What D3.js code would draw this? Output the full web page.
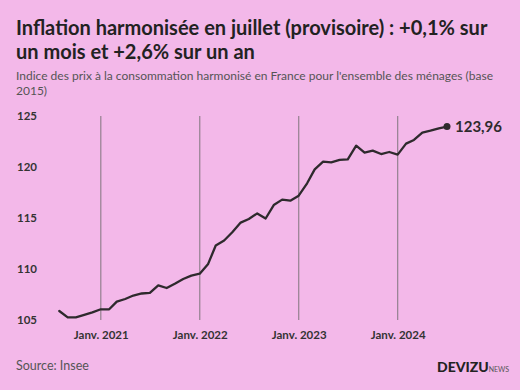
<!DOCTYPE html>
<html>
<head>
<meta charset="utf-8">
<script src="https://cdn.jsdelivr.net/npm/d3@7"></script>
<style>
  html, body { margin: 0; padding: 0; background: #f3b8e9; }
  svg { display: block; }
</style>
</head>
<body>
<svg id="chart" width="520" height="390"></svg>
<script>
const months = ["2020-08","2020-09","2020-10","2020-11","2020-12",
  "2021-01","2021-02","2021-03","2021-04","2021-05","2021-06","2021-07","2021-08","2021-09","2021-10","2021-11","2021-12",
  "2022-01","2022-02","2022-03","2022-04","2022-05","2022-06","2022-07","2022-08","2022-09","2022-10","2022-11","2022-12",
  "2023-01","2023-02","2023-03","2023-04","2023-05","2023-06","2023-07","2023-08","2023-09","2023-10","2023-11","2023-12",
  "2024-01","2024-02","2024-03","2024-04","2024-05","2024-06","2024-07"];
const values = [105.88,105.26,105.26,105.5,105.75,
  106.05,106.05,106.8,107.06,107.4,107.6,107.65,108.4,108.14,108.56,109.02,109.35,
  109.54,110.5,112.3,112.8,113.6,114.55,114.9,115.45,114.95,116.27,116.8,116.7,
  117.19,118.4,119.77,120.52,120.46,120.69,120.75,122.09,121.4,121.6,121.27,121.47,
  121.21,122.29,122.65,123.37,123.56,123.79,123.96];
const yTicks = [105, 110, 115, 120, 125];
const xTicks = ["2021-01","2022-01","2023-01","2024-01"];
const xTickLabels = ["Janv. 2021","Janv. 2022","Janv. 2023","Janv. 2024"];
const endLabel = "123,96";
const titleLines = ["Inflation harmonisée en juillet (provisoire) : +0,1% sur", "un mois et +2,6% sur un an"];
const subtitleLines = ["Indice des prix à la consommation harmonisé en France pour l'ensemble des ménages (base", "2015)"];
const sourceText = "Source: Insee";

const parse = d3.timeParse("%Y-%m");
const data = months.map((m, i) => ({ date: parse(m), value: values[i] }));

const svg = d3.select("#chart");
const font = "Lato, 'Noto Sans', sans-serif";

svg.append("rect").attr("width", 520).attr("height", 390).attr("fill", "#f3b8e9");

const x = d3.scaleTime().domain([data[0].date, data[data.length - 1].date]).range([59.3, 447]);
const y = d3.scaleLinear().domain([105, 125]).range([320, 116]);

// title
const title = svg.append("text").attr("font-family", font).attr("font-weight", 700)
  .attr("font-size", 20).attr("fill", "#222");
titleLines.forEach((t, i) => title.append("tspan").attr("x", 16).attr("y", 35 + i * 24).text(t));

const sub = svg.append("text").attr("font-family", font).attr("font-size", 12).attr("fill", "#555");
subtitleLines.forEach((t, i) => sub.append("tspan").attr("x", 16).attr("y", 80 + i * 14.5).text(t));

// vertical gridlines
const xTickDates = xTicks.map(parse);
svg.append("g").selectAll("line").data(xTickDates).join("line")
  .attr("x1", d => x(d)).attr("x2", d => x(d))
  .attr("y1", y(125)).attr("y2", y(105))
  .attr("stroke", "#9a8596").attr("stroke-width", 1.3);

// x axis labels
const xAxis = d3.axisBottom(x).tickValues(xTickDates)
  .tickFormat((d, i) => xTickLabels[i]).tickSize(0).tickPadding(0);
const gx = svg.append("g").attr("transform", "translate(0,331)").call(xAxis);
gx.select(".domain").remove();
gx.selectAll("text").attr("font-family", font).attr("font-weight", 700)
  .attr("font-size", 11.5).attr("fill", "#333");

// y axis labels
const yAxis = d3.axisLeft(y).tickValues(yTicks).tickSize(0).tickPadding(0);
const gy = svg.append("g").attr("transform", "translate(17,0)").call(yAxis);
gy.select(".domain").remove();
gy.selectAll("text").attr("text-anchor", "start").attr("font-family", font).attr("font-weight", 700)
  .attr("font-size", 11.5).attr("fill", "#333");

// line
const line = d3.line().x(d => x(d.date)).y(d => y(d.value));
svg.append("path").datum(data).attr("d", line)
  .attr("fill", "none").attr("stroke", "#2e2a2d").attr("stroke-width", 2.3)
  .attr("stroke-linejoin", "round").attr("stroke-linecap", "round");

const last = data[data.length - 1];
svg.append("circle").attr("cx", x(last.date)).attr("cy", y(last.value)).attr("r", 3.5).attr("fill", "#2e2a2d");
svg.append("text").attr("x", x(last.date) + 8).attr("y", y(last.value)).attr("dy", "0.35em")
  .attr("font-family", font).attr("font-weight", 700).attr("font-size", 15).attr("fill", "#2e2a2d").text(endLabel);

// footer
svg.append("text").attr("x", 16).attr("y", 370).attr("font-family", font).attr("font-size", 12.5)
  .attr("fill", "#555").text(sourceText);
const logo = svg.append("text").attr("x", 437).attr("y", 372).attr("font-family", font).attr("fill", "#222");
logo.append("tspan").attr("font-weight", 900).attr("font-size", 14).text("DEVIZU");
logo.append("tspan").attr("font-size", 7).attr("fill", "#555").text("NEWS");
</script>
</body>
</html>
